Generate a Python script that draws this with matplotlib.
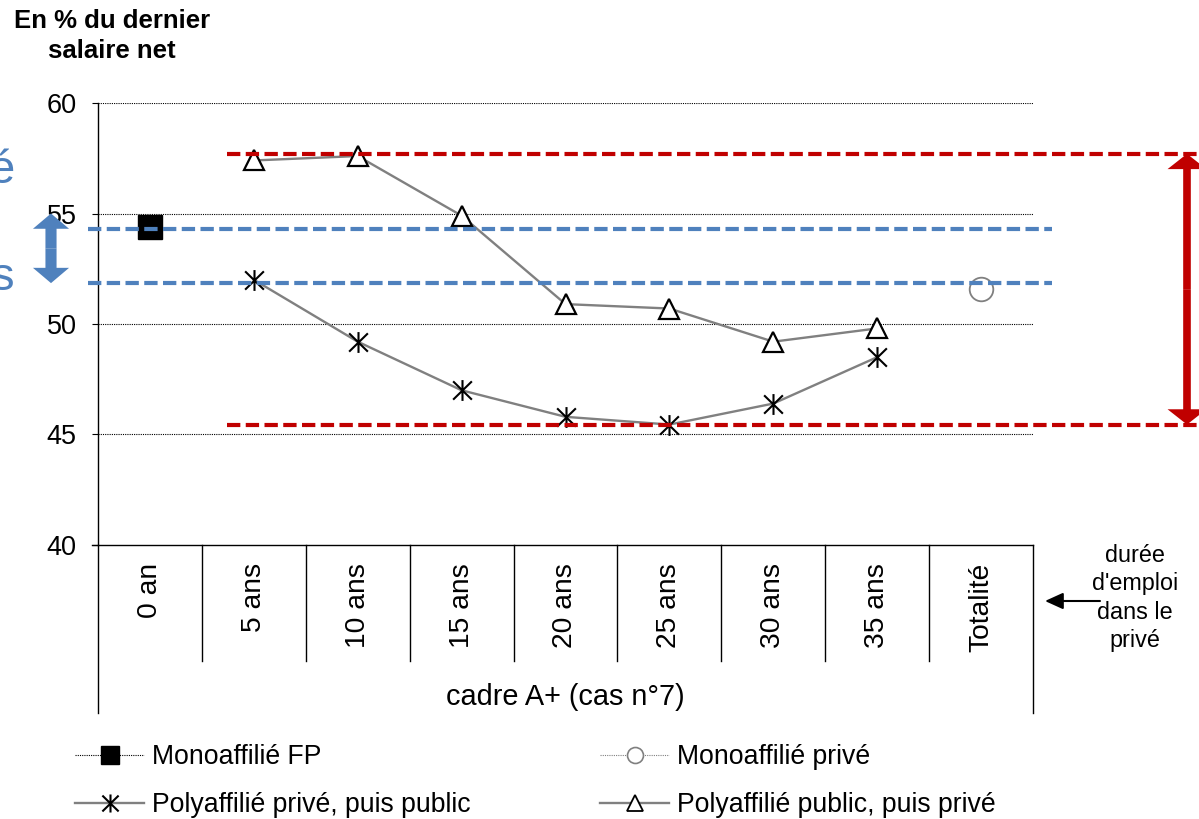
import numpy as np
import matplotlib
matplotlib.use("Agg")
import matplotlib.pyplot as plt
from matplotlib.lines import Line2D
from matplotlib.path import Path
from matplotlib.patches import FancyArrowPatch, ArrowStyle
from matplotlib.transforms import blended_transform_factory

plt.rcParams['font.family'] = ['Liberation Sans', 'DejaVu Sans']

# ---- data -------------------------------------------------------------
categories = ['0 an', '5 ans', '10 ans', '15 ans', '20 ans', '25 ans',
              '30 ans', '35 ans', 'Totalité']
group_label = 'cadre A+ (cas n°7)'
side_label = "durée\nd'emploi\ndans le\nprivé"
y_title = 'En % du dernier\nsalaire net'

nan = np.nan
mono_fp = [54.4, nan, nan, nan, nan, nan, nan, nan, nan]
mono_prive = [nan, nan, nan, nan, nan, nan, nan, nan, 51.6]
poly_prive_public = [nan, 52.0, 49.2, 47.0, 45.8, 45.45, 46.4, 48.5, nan]
poly_public_prive = [nan, 57.4, 57.6, 54.9, 50.9, 50.7, 49.2, 49.8, nan]

series_names = ['Monoaffilié FP', 'Monoaffilié privé',
                'Polyaffilié privé, puis public', 'Polyaffilié public, puis privé']

# range of the polyaffiliated series (red) and of the monoaffiliated gap (blue)
red_levels = [45.45, 57.7]
blue_levels = [51.85, 54.3]

y_ticks = [40, 45, 50, 55, 60]

# ---- figure -----------------------------------------------------------
W, H = 1199, 819
fig = plt.figure(figsize=(W / 100, H / 100), dpi=100)

def fx(px):
    return px / W

def fy(py):
    return 1 - py / H

ax_left, ax_right, ax_top, ax_bottom = 98, 1033, 103, 545
ax = fig.add_axes([fx(ax_left), fy(ax_bottom), (ax_right - ax_left) / W,
                   (ax_bottom - ax_top) / H])
ax.set_xlim(-0.5, len(categories) - 0.5)
ax.set_ylim(40, 60)
ax.set_yticks(y_ticks)
ax.set_xticks([])
ax.tick_params(axis='y', direction='out', length=4.3, width=0.8,
               labelsize=19.5, pad=11)
for side in ['top', 'right', 'bottom']:
    ax.spines[side].set_visible(False)
ax.spines['left'].set_linewidth(1.0)

# dotted gridlines
for v in y_ticks[1:]:
    ax.axhline(v, color='black', lw=0.8, ls=(0, (1, 1)), zorder=1)

# asterisk: vertical stroke crossed by an X
star = Path([(0, -1), (0, 1), (-0.9, -0.88), (0.9, 0.88),
             (-0.9, 0.88), (0.9, -0.88)],
            [Path.MOVETO, Path.LINETO, Path.MOVETO, Path.LINETO,
             Path.MOVETO, Path.LINETO])

x = np.arange(len(categories))
grey = '#808080'

ax.plot(x, poly_public_prive, color=grey, lw=1.7, marker='^', ms=14,
        mfc='white', mec='black', mew=1.6, zorder=3)
ax.plot(x, poly_prive_public, color=grey, lw=1.7, marker=star, ms=15,
        mec='black', mew=1.5, zorder=3)
ax.plot(x, mono_fp, ls='none', marker='s', ms=17.5, mfc='black', mec='black',
        zorder=3)
ax.plot(x, mono_prive, ls='none', marker='o', ms=17, mfc='white', mec=grey,
        mew=1.3, zorder=3)

# dashed reference levels
red = '#C00000'
blue = '#4F81BD'
tr_fd = blended_transform_factory(fig.transFigure, ax.transData)
for v in red_levels:
    fig.add_artist(Line2D([fx(227), fx(1199)], [v, v], transform=tr_fd,
                          color=red, lw=3.0, ls=(0, (3.2, 1.3)), zorder=5))
for v in blue_levels:
    fig.add_artist(Line2D([fx(88), fx(1052)], [v, v], transform=tr_fd,
                          color=blue, lw=3.0, ls=(0, (3.2, 1.3)), zorder=5))

# double arrows spanning the dashed levels
def double_arrow(xpx, y0, y1, color, head_w, head_l, tail_w):
    mid = (y0 + y1) / 2
    style = ArrowStyle('simple', head_length=head_l, head_width=head_w,
                       tail_width=tail_w)
    for end in (y0, y1):
        a = FancyArrowPatch((fx(xpx), mid), (fx(xpx), end),
                            transform=tr_fd, arrowstyle=style,
                            mutation_scale=1, color=color, lw=0,
                            shrinkA=0, shrinkB=0, zorder=6)
        fig.add_artist(a)

double_arrow(1187, red_levels[0], red_levels[1], red, 28, 11, 5.5)
double_arrow(51, blue_levels[0], 55.0, blue, 26, 11, 8)

# blue captions running off the left edge
fig.text(fx(15), fy(171), 'é', color=blue, fontsize=34, ha='right',
         va='center')
fig.text(fx(14), fy(278), 's', color=blue, fontsize=34, ha='right',
         va='center')

# category table under the plot
def axy(py):
    return (ax_bottom - py) / (ax_bottom - ax_top)

tr_x = ax.get_xaxis_transform()
n = len(categories)
ax.add_line(Line2D([-6 / (ax_right - ax_left), 1], [0, 0],
                   transform=ax.transAxes, color='black', lw=1.0,
                   clip_on=False))
for k in range(1, n):
    ax.add_line(Line2D([k / n, k / n], [0, axy(661)], transform=ax.transAxes,
                       color='black', lw=1.0, clip_on=False))
for xx in (0, 1):
    ax.add_line(Line2D([xx, xx], [0, axy(713)], transform=ax.transAxes,
                       color='black', lw=1.0, clip_on=False))
for i, c in enumerate(categories):
    ax.text(i, axy(563), c, transform=tr_x, rotation=90, ha='center',
            va='top', fontsize=20.3)
ax.text(0.5, axy(697), group_label, transform=ax.transAxes, ha='center',
        va='center', fontsize=20.8)

# side note with arrow
fig.text(fx(1135), fy(598), side_label, ha='center', va='center',
         fontsize=16.8, linespacing=1.3)
fig.add_artist(FancyArrowPatch((fx(1100), fy(601)), (fx(1045), fy(601)),
                               transform=fig.transFigure,
                               arrowstyle='-|>,head_length=0.55,head_width=0.25',
                               mutation_scale=20, color='black', lw=1.5,
                               shrinkA=0, shrinkB=0))

# axis title
fig.text(fx(112), fy(36), y_title, ha='center', va='center', fontsize=18.5,
         fontweight='bold', linespacing=1.3)

# legend
h_fp = Line2D([], [], color='black', lw=0.8, ls=(0, (1, 1)), marker='s',
              ms=12.5, mfc='black', mec='black')
h_mp = Line2D([], [], color=grey, lw=0.8, ls=(0, (1, 1)), marker='o',
              ms=11.5, mfc='white', mec=grey, mew=1.2)
h_pp = Line2D([], [], color=grey, lw=1.7, marker=star, ms=13,
              mec='black', mew=1.5)
h_pu = Line2D([], [], color=grey, lw=1.7, marker='^', ms=11.5, mfc='white',
              mec='black', mew=1.3)
common = dict(frameon=False, fontsize=19.2, handlelength=2.6,
              handletextpad=0.3, labelspacing=0.82, borderpad=0,
              borderaxespad=0, loc='center left')
fig.legend([h_fp, h_pp], [series_names[0], series_names[2]],
           bbox_to_anchor=(fx(75), fy(781)), **common)
fig.legend([h_mp, h_pu], [series_names[1], series_names[3]],
           bbox_to_anchor=(fx(600), fy(781)), **common)

fig.savefig('out.png', dpi=100)
